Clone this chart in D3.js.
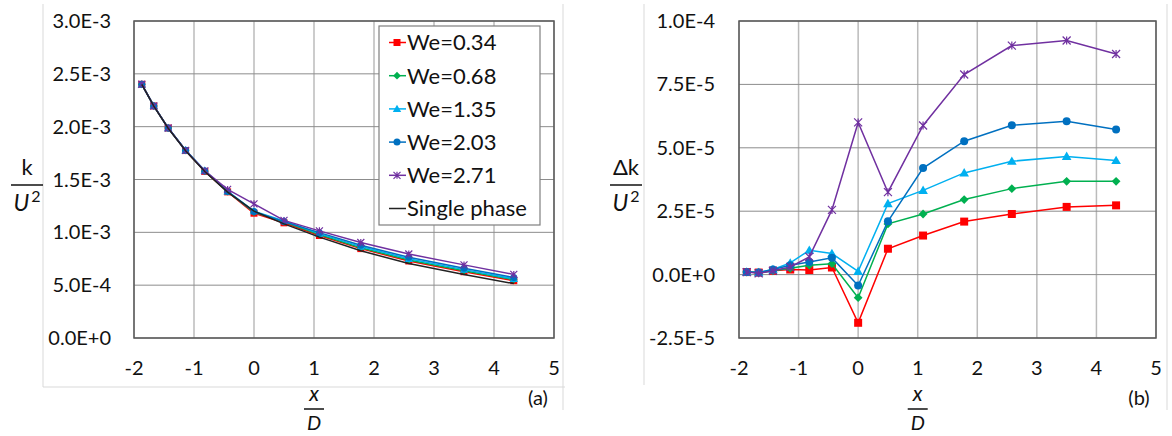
<!DOCTYPE html>
<html><head><meta charset="utf-8">
<script src="https://cdn.jsdelivr.net/npm/d3@7/dist/d3.min.js"></script>
<style>body{margin:0;background:#fff}svg{display:block}text{font-family:Lato,"Open Sans",sans-serif;fill:#111}</style>
</head><body>
<svg id="c" width="1172" height="436"></svg>
<script>
// ---- data ----
const xPos = [-1.87, -1.67, -1.43, -1.14, -0.82, -0.44, 0, 0.5, 1.09, 1.78, 2.58, 3.5, 4.33];
const seriesNames = ["We=0.34", "We=0.68", "We=1.35", "We=2.03", "We=2.71"];
// panel (a): k/U^2 (units of 1E-3)
const kWe034 = [2.401, 2.196, 1.987, 1.774, 1.577, 1.383, 1.181, 1.090, 0.970, 0.846, 0.729, 0.627, 0.542];
const kWe068 = [2.401, 2.196, 1.987, 1.775, 1.579, 1.384, 1.191, 1.100, 0.979, 0.855, 0.739, 0.637, 0.552];
const kWe135 = [2.401, 2.196, 1.987, 1.777, 1.585, 1.388, 1.201, 1.108, 0.988, 0.865, 0.750, 0.647, 0.560];
const kWe203 = [2.401, 2.196, 1.987, 1.776, 1.580, 1.387, 1.196, 1.101, 0.997, 0.878, 0.764, 0.661, 0.572];
const kWe271 = [2.401, 2.196, 1.987, 1.775, 1.582, 1.406, 1.270, 1.113, 1.014, 0.904, 0.795, 0.692, 0.602];
const kSingle = [2.400, 2.195, 1.985, 1.772, 1.575, 1.380, 1.200, 1.080, 0.955, 0.825, 0.705, 0.600, 0.515];
// panel (b): Δk/U^2 (units of 1E-5)
const dWe034 = [0.10, 0.08, 0.15, 0.20, 0.18, 0.28, -1.90, 1.02, 1.54, 2.09, 2.39, 2.67, 2.73];
const dWe068 = [0.10, 0.08, 0.15, 0.25, 0.37, 0.43, -0.91, 2.00, 2.39, 2.96, 3.39, 3.68, 3.68];
const dWe135 = [0.10, 0.08, 0.20, 0.46, 0.96, 0.83, 0.13, 2.80, 3.32, 4.01, 4.47, 4.66, 4.50];
const dWe203 = [0.10, 0.08, 0.20, 0.37, 0.50, 0.66, -0.43, 2.10, 4.20, 5.26, 5.89, 6.05, 5.72];
const dWe271 = [0.10, 0.05, 0.15, 0.30, 0.70, 2.55, 6.00, 3.25, 5.88, 7.89, 9.03, 9.23, 8.70];
const xTicks = [-2, -1, 0, 1, 2, 3, 4, 5];
const yTicksA = [0, 5e-4, 1e-3, 1.5e-3, 2e-3, 2.5e-3, 3e-3];
const yTicksB = [-2.5e-5, 0, 2.5e-5, 5e-5, 7.5e-5, 1e-4];

const colors = ["#FF0000", "#00B050", "#00B0F0", "#0070C0", "#7030A0"];
const shapes = ["square", "diamond", "triangle", "circle", "star"];

const svg = d3.select("#c");
const fmt = v => v.toExponential(1).toUpperCase();

function marker(g, shape, color, x, y, s) {
  if (shape === "square") g.append("rect").attr("x", x - s/2).attr("y", y - s/2).attr("width", s).attr("height", s).attr("fill", color);
  else if (shape === "diamond") g.append("path").attr("d", `M${x},${y-s*0.55}L${x+s*0.55},${y}L${x},${y+s*0.55}L${x-s*0.55},${y}Z`).attr("fill", color);
  else if (shape === "triangle") g.append("path").attr("d", `M${x},${y-s*0.6}L${x+s*0.6},${y+s*0.45}L${x-s*0.6},${y+s*0.45}Z`).attr("fill", color);
  else if (shape === "circle") g.append("circle").attr("cx", x).attr("cy", y).attr("r", s/2).attr("fill", color);
  else if (shape === "star") {
    const r = s/2;
    g.append("path").attr("d", `M${x-r},${y-r}L${x+r},${y+r}M${x-r},${y+r}L${x+r},${y-r}M${x},${y-r}L${x},${y+r}`).attr("stroke", color).attr("stroke-width", 1.2).attr("fill", "none");
  }
}

function panel(cfg) {
  const x = d3.scaleLinear().domain([-2, 5]).range([cfg.x0, cfg.x1]);
  const y = d3.scaleLinear().domain(cfg.yDom).range([338, 21]);
  const g = svg.append("g");
  cfg.frame.forEach(f => g.append("line").attr("x1", f[0]).attr("y1", f[1]).attr("x2", f[2]).attr("y2", f[3]).attr("stroke", "#D9D9D9").attr("stroke-width", 1));
  g.append("g").selectAll("line").data(xTicks).join("line")
    .attr("x1", d => x(d)).attr("x2", d => x(d)).attr("y1", 21).attr("y2", 338)
    .attr("stroke", "#BBBBBB").attr("stroke-width", 1.5);
  g.append("g").selectAll("line").data(cfg.yTicks).join("line")
    .attr("x1", cfg.x0).attr("x2", cfg.x1).attr("y1", d => y(d)).attr("y2", d => y(d))
    .attr("stroke", "#8C8C8C").attr("stroke-width", 1);
  g.append("rect").attr("x", cfg.x0).attr("y", 21).attr("width", cfg.x1 - cfg.x0).attr("height", 317)
    .attr("fill", "none").attr("stroke", "#595959").attr("stroke-width", 1.5);
  g.append("g").selectAll("text").data(xTicks).join("text")
    .attr("x", d => x(d)).attr("y", 375).attr("text-anchor", "middle").attr("font-size", 20).text(d => d);
  g.append("g").selectAll("text").data(cfg.yTicks).join("text")
    .attr("x", cfg.labX).attr("y", d => y(d)).attr("dy", "0.35em").attr("text-anchor", "end").attr("font-size", 20).text(fmt);
  const line = d3.line().x((d, i) => x(xPos[i])).y(d => y(d * cfg.unit));
  cfg.series.forEach((s, k) => {
    g.append("path").datum(s).attr("d", line).attr("fill", "none").attr("stroke", colors[k]).attr("stroke-width", 1.5);
    const mg = g.append("g");
    s.forEach((v, i) => marker(mg, shapes[k], colors[k], x(xPos[i]), y(v * cfg.unit), cfg.ms));
  });
  if (cfg.single) g.append("path").datum(cfg.single).attr("d", line).attr("fill", "none").attr("stroke", "#222").attr("stroke-width", 1.5);
  // x axis label x/D
  const cx = x(1);
  g.append("text").attr("x", cx).attr("y", 401).attr("text-anchor", "middle").attr("font-family", "DejaVu Serif").attr("font-style", "italic").attr("font-size", 21).text("x");
  g.append("line").attr("x1", cx - 10).attr("x2", cx + 10).attr("y1", 409).attr("y2", 409).attr("stroke", "#111").attr("stroke-width", 1.5);
  g.append("text").attr("x", cx).attr("y", 430).attr("text-anchor", "middle").attr("font-family", "DejaVu Serif").attr("font-style", "italic").attr("font-size", 20).text("D");
  g.append("text").attr("x", cfg.tagX).attr("y", cfg.tagY).attr("text-anchor", "middle").attr("font-size", 20).text(cfg.tag);
  // y label
  g.append("text").attr("x", cfg.ylX).attr("y", 175).attr("text-anchor", "middle").attr("font-family", "DejaVu Serif").attr("font-size", 22).text(cfg.ylTop);
  g.append("line").attr("x1", cfg.ylX - 16).attr("x2", cfg.ylX + 16).attr("y1", 185).attr("y2", 185).attr("stroke", "#111").attr("stroke-width", 1.5);
  const u = g.append("text").attr("x", cfg.ylX).attr("y", 211).attr("text-anchor", "middle").attr("font-family", "DejaVu Serif").attr("font-size", 23);
  u.append("tspan").attr("font-style", "italic").text("U");
  u.append("tspan").attr("font-size", 16).attr("dy", -9).attr("dx", 2).text("2");
  return {x, y, g};
}

panel({x0: 134, x1: 554, yDom: [0, 3e-3], yTicks: yTicksA, unit: 1e-3, labX: 111, ms: 7,
  series: [kWe034, kWe068, kWe135, kWe203, kWe271], single: kSingle,
  frame: [[43, 4, 43, 387], [43, 387, 565, 387], [563, 4, 563, 410]],
  tag: "(a)", tagX: 538, tagY: 405, ylX: 27, ylTop: "k"});
panel({x0: 739, x1: 1156, yDom: [-2.5e-5, 1e-4], yTicks: yTicksB, unit: 1e-5, labX: 715, ms: 8,
  series: [dWe034, dWe068, dWe135, dWe203, dWe271], single: null,
  frame: [[644, 4, 644, 385], [1167, 4, 1167, 410]],
  tag: "(b)", tagX: 1139, tagY: 405, ylX: 626, ylTop: "Δk"});

// legend (panel a)
const lg = svg.append("g");
lg.append("rect").attr("x", 379).attr("y", 26).attr("width", 161).attr("height", 199).attr("fill", "#fff").attr("stroke", "#7F7F7F").attr("stroke-width", 1.2);
const legNames = seriesNames.concat(["Single phase"]);
const legColors = colors.concat(["#222"]);
legNames.forEach((n, i) => {
  const yy = 42.5 + i * 33.2;
  lg.append("line").attr("x1", 389).attr("x2", 406).attr("y1", yy).attr("y2", yy).attr("stroke", legColors[i]).attr("stroke-width", 1.5);
  if (i < 5) marker(lg, shapes[i], colors[i], 397, yy, 7);
  lg.append("text").attr("x", 407).attr("y", yy).attr("dy", "0.36em").attr("font-size", 22).text(n);
});
</script>
</body></html>
